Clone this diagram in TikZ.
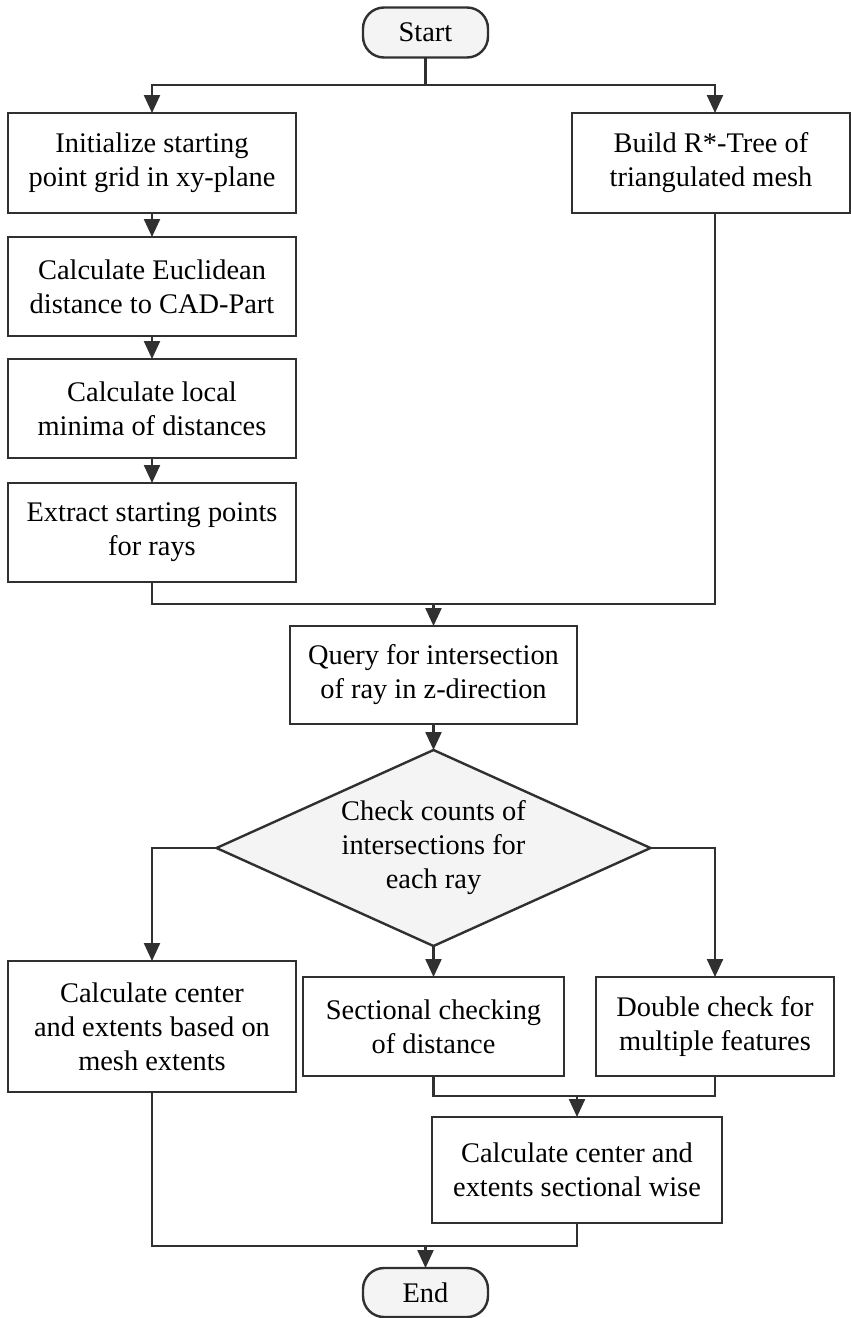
\documentclass[tikz,border=0pt]{standalone}
\usepackage{fontspec}
\setmainfont{Liberation Serif}
\usetikzlibrary{arrows.meta,shapes.geometric}
\definecolor{edge}{HTML}{303030}
\definecolor{softfill}{HTML}{F4F4F4}
\begin{document}
\begin{tikzpicture}[x=1pt,y=-1pt,
  every node/.style={font=\fontsize{28.4}{34}\selectfont, align=center, inner sep=0pt, outer sep=0pt},
  procbox/.style={draw=edge, line width=2.4pt, rectangle, fill=white},
  termbox/.style={draw=edge, line width=2.4pt, rectangle, rounded corners=21pt, fill=softfill,
                  minimum width=125pt, minimum height=50pt},
  decbox/.style={draw=edge, line width=2.4pt, diamond, aspect=2.2, fill=softfill,
                 minimum width=434pt, minimum height=196pt},
  link/.style={draw=edge, line width=2.3pt},
  arr/.style={link, -{Triangle[width=16pt,length=18pt]}}
]
\useasboundingbox (0,0) rectangle (851,1318);

% columns used by the branching connectors
\coordinate (rcol) at (715,0);

% terminals
\node[termbox] (start) at (425.5,32.5) {Start};
\node[termbox, minimum height=49pt] (end) at (425.5,1292.5) {End};

% left column: preparation of the ray starting points
\node[procbox, minimum width=288pt, minimum height=100pt] (init) at (152,163)
  {Initialize starting\\point grid in xy-plane};
\node[procbox, minimum width=288pt, minimum height=99pt] (euclid) at (152,286.5)
  {Calculate Euclidean\\distance to CAD-Part};
\node[procbox, minimum width=288pt, minimum height=99pt] (minima) at (152,408.5)
  {Calculate local\\minima of distances};
\node[procbox, minimum width=288pt, minimum height=99pt] (extract) at (152,532.5)
  {Extract starting points\\for rays};

% right column: spatial index
\node[procbox, minimum width=278pt, minimum height=100pt] (build) at (711,163)
  {Build R*-Tree of\\triangulated mesh};

% ray query and decision
\node[procbox, minimum width=287pt, minimum height=98pt] (query) at (433.5,675)
  {Query for intersection\\of ray in z-direction};
\node[decbox] (check) at (433.5,848)
  {Check counts of\\intersections for\\each ray};

% outcomes
\node[procbox, minimum width=288pt, minimum height=131pt] (mesh) at (152,1026.5)
  {Calculate center\\and extents based on\\mesh extents};
\node[procbox, minimum width=261pt, minimum height=99pt] (sect) at (433.5,1026.5)
  {Sectional checking\\of distance};
\node[procbox, minimum width=238pt, minimum height=99pt] (double) at (715,1026.5)
  {Double check for\\multiple features};
\node[procbox, minimum width=290pt, minimum height=106pt] (calc) at (577,1170)
  {Calculate center and\\extents sectional wise};

% junction points
\coordinate (split) at (425.5,85);
\coordinate (m1) at (433.5,604);
\coordinate (m2) at (577,1096);
\coordinate (m3) at (425.5,1246);

% connectors
\draw[link] (start.south) -- (split);
\draw[arr] (split) -| (init.north);
\draw[arr] (split) -| (build.north -| rcol);

\draw[arr] (init) -- (euclid);
\draw[arr] (euclid) -- (minima);
\draw[arr] (minima) -- (extract);

\draw[link] (extract.south) |- (m1) -| (build.south -| rcol);
\draw[arr] (m1) -- (query.north);
\draw[arr] (query.south) -- (check.north);

\draw[arr] (check.west) -| (mesh.north);
\draw[arr] (check.south) -- (sect.north);
\draw[arr] (check.east) -| (double.north);

\draw[link] (sect.south) |- (m2) -| (double.south);
\draw[arr] (m2) -- (calc.north);

\draw[link] (mesh.south) |- (m3) -| (calc.south);
\draw[arr] (m3) -- (end.north);
\end{tikzpicture}
\end{document}
